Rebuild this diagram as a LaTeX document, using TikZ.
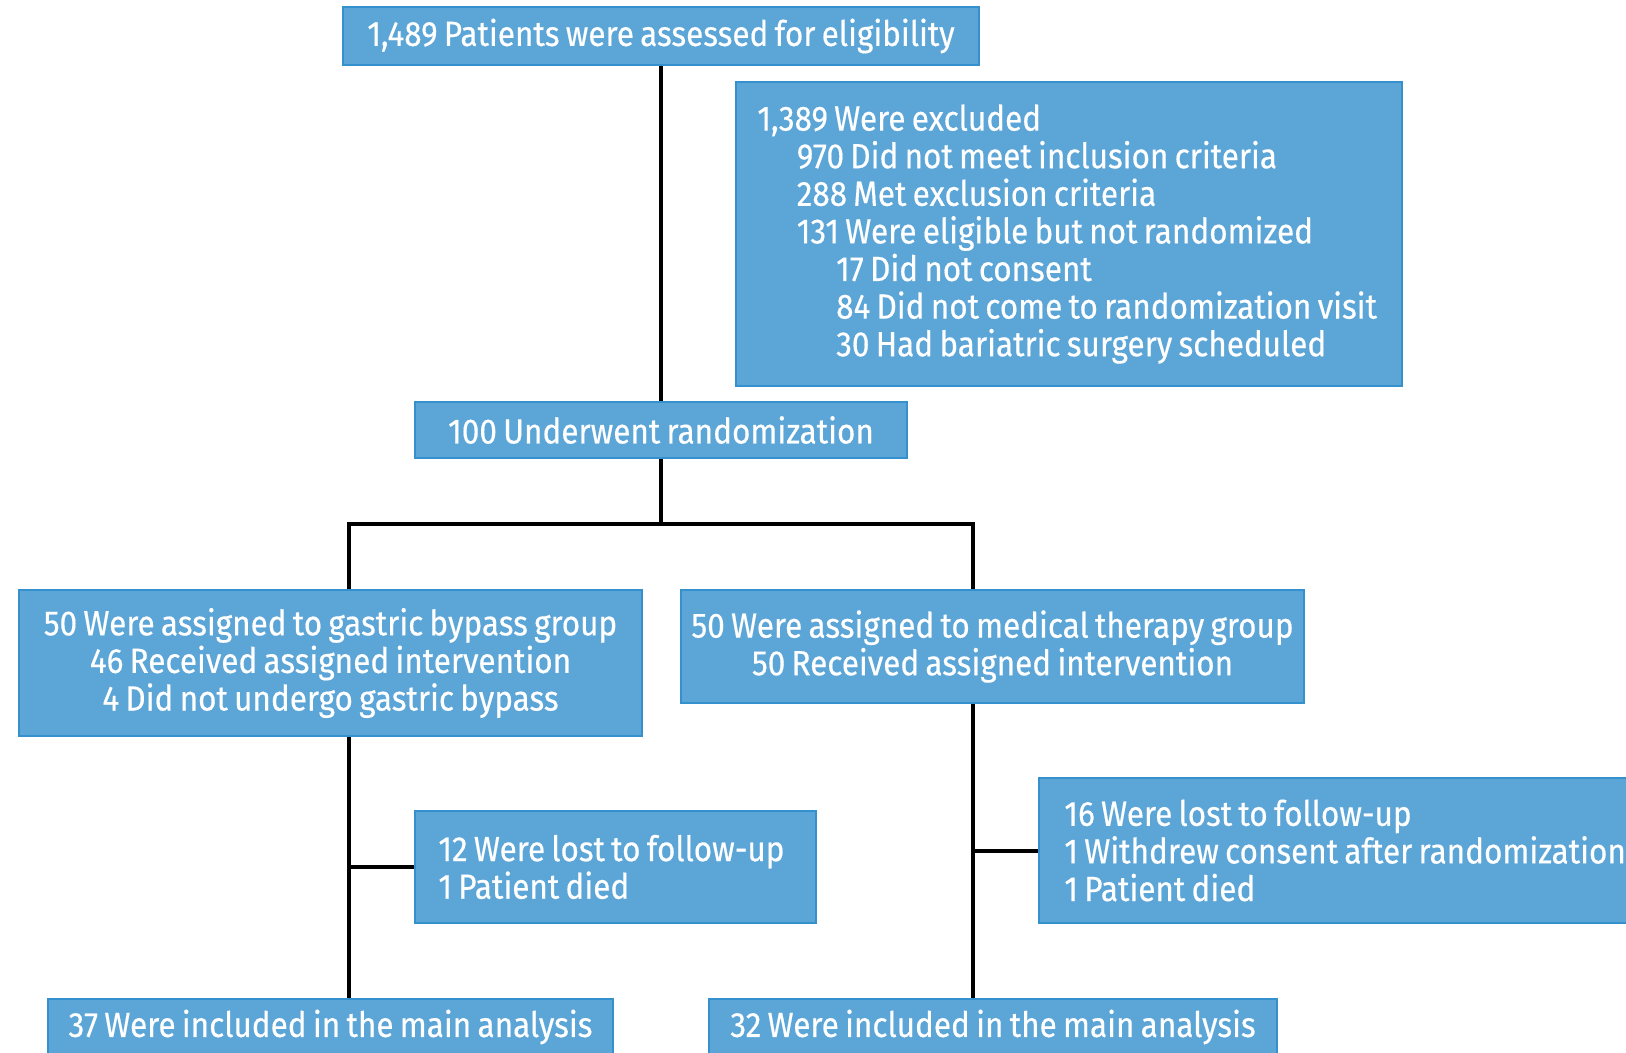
\documentclass[tikz,border=0pt]{standalone}
\usepackage{fontspec}
\setmainfont{Fira Sans}[FakeStretch=0.9,WordSpace=0.75,FakeBold=0.4]
\usetikzlibrary{positioning}
\definecolor{boxblue}{RGB}{92,165,215}
\definecolor{boxedge}{RGB}{52,145,206}
\tikzset{flowbox/.style={draw=boxedge,line width=1pt,fill=boxblue,text=white,
        inner sep=0pt,align=center,font=\fontsize{17.5}{18.8}\selectfont},
    boxtext/.style={text=white,inner sep=0pt,align=left,anchor=west,
        font=\fontsize{17.5}{18.8}\selectfont},
    link/.style={line width=2pt,black},
    }
\newcommand{\ind}{\hspace*{19.7pt}}

\begin{document}
\begin{tikzpicture}[x=0.5pt,y=-0.5pt]
	\useasboundingbox (0,0) rectangle (1626,1053);
	% screening
	\node[flowbox,minimum width=318pt,minimum height=29pt] (assess) at (661,36)
		{1,489 Patients were assessed for eligibility};
	\node[flowbox,minimum width=333pt,minimum height=152pt] (excl) at (1069,234) {};
	\node[boxtext] (exclt) at ([xshift=11pt]excl.west)
		{1,389 Were excluded\\
		\ind 970 Did not meet inclusion criteria\\
		\ind 288 Met exclusion criteria\\
		\ind 131 Were eligible but not randomized\\
		\ind\ind 17 Did not consent\\
		\ind\ind 84 Did not come to randomization visit\\
		\ind\ind 30 Had bariatric surgery scheduled};
	\node[flowbox,minimum width=246pt,minimum height=28pt] (rand) at (661,430)
		{100 Underwent randomization};
	% allocation
	\node[flowbox,minimum width=311.5pt,minimum height=73pt] (gast) at (330.5,663)
		{50 Were assigned to gastric bypass group\\
		46 Received assigned intervention\\
		4 Did not undergo gastric bypass};
	\node[flowbox,minimum width=311.5pt,minimum height=56.5pt] (med) at (992.5,646.5)
		{50 Were assigned to medical therapy group\\
		50 Received assigned intervention};
	% follow-up
	\node[flowbox,minimum width=200.5pt,minimum height=56pt] (lostL) at (615.5,867) {};
	\node[boxtext] (lostLt) at ([xshift=12pt]lostL.west)
		{12 Were lost to follow-up\\
		1 Patient died};
	\node[flowbox,minimum width=305.5pt,minimum height=72.5pt] (lostR) at (1344.5,850.5) {};
	\node[boxtext] (lostRt) at ([xshift=13pt]lostR.west)
		{16 Were lost to follow-up\\
		1 Withdrew consent after randomization\\
		1 Patient died};
	% analysis
	\node[flowbox,minimum width=282.5pt,minimum height=28pt] (anaL) at (330.5,1027)
		{37 Were included in the main analysis};
	\node[flowbox,minimum width=284pt,minimum height=28pt] (anaR) at (993,1027)
		{32 Were included in the main analysis};
	\coordinate (split) at (661,524);
	\coordinate (armL) at (349,524);
	\coordinate (armR) at (973,524);
	\draw[link] (assess) -- (rand);
	\draw[link] (rand) -- (split);
	\draw[link] (gast.north -| armL) -- (armL) -- (armR) -- (med.north -| armR);
	\draw[link] (gast.south -| armL) -- (anaL.north -| armL);
	\draw[link] (lostL.west -| armL) -- (lostL.west);
	\draw[link] (med.south -| armR) -- (anaR.north -| armR);
	\draw[link] (lostR.west -| armR) -- (lostR.west);
\end{tikzpicture}
\end{document}
